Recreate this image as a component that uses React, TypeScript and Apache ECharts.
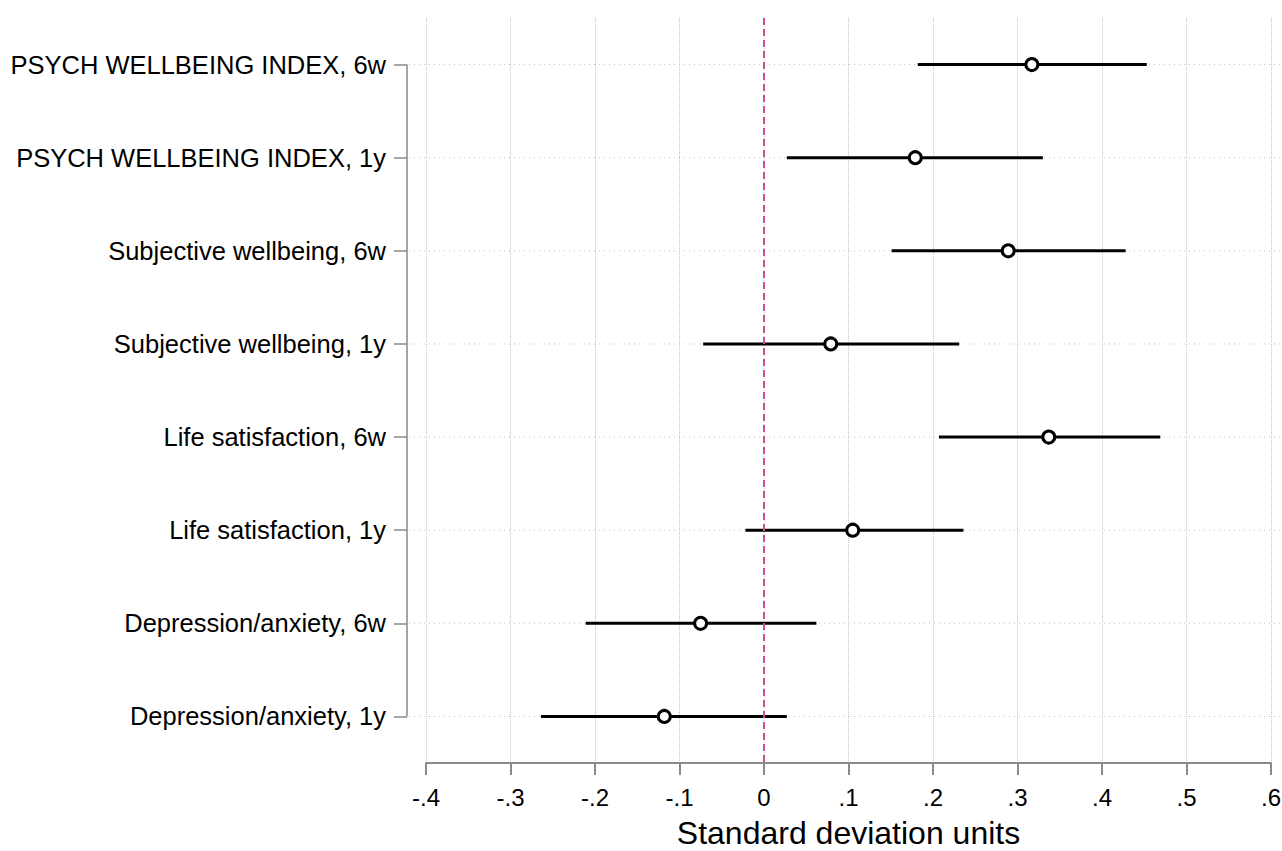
import React, { useEffect, useRef } from "react";
import * as echarts from "echarts";

const categories = [
  "PSYCH WELLBEING INDEX, 6w",
  "PSYCH WELLBEING INDEX, 1y",
  "Subjective wellbeing, 6w",
  "Subjective wellbeing, 1y",
  "Life satisfaction, 6w",
  "Life satisfaction, 1y",
  "Depression/anxiety, 6w",
  "Depression/anxiety, 1y",
];
const estimates = [0.317, 0.179, 0.289, 0.079, 0.337, 0.105, -0.075, -0.118];
const lower = [0.182, 0.027, 0.151, -0.072, 0.207, -0.022, -0.211, -0.264];
const upper = [0.453, 0.330, 0.428, 0.231, 0.469, 0.236, 0.062, 0.027];
const xMin = -0.4;
const xMax = 0.6;
const xInterval = 0.1;
const xTitle = "Standard deviation units";

const FONT = "'Liberation Sans', Arial, sans-serif";
const GRID_GREY = "#c4c4c4";
const AXIS_GREY = "#8a8a8a";

function fmt(v: number): string {
  const r = Math.round(v * 10) / 10;
  if (r === 0) return "0";
  const s = String(r);
  return s.replace(/^0\./, ".").replace(/^-0\./, "-.");
}

export default function App() {
  const ref = useRef<HTMLDivElement>(null);
  useEffect(() => {
    document.body.style.margin = "0";
    document.body.style.overflow = "hidden";
    const chart = echarts.init(ref.current!, null, { renderer: "svg" });
    const n = categories.length;
    chart.setOption({
      animation: false,
      backgroundColor: "#ffffff",
      grid: { left: 426, right: 11, top: 18, bottom: 88, containLabel: false, outerBoundsMode: "none" },
      xAxis: {
        type: "value",
        min: xMin,
        max: xMax,
        interval: xInterval,
        name: xTitle,
        nameLocation: "middle",
        nameGap: 54,
        nameTextStyle: { fontFamily: FONT, fontSize: 32, color: "#000" },
        axisLine: { show: true, onZero: false, lineStyle: { color: AXIS_GREY, width: 2 } },
        axisTick: { show: true, length: 12, lineStyle: { color: AXIS_GREY, width: 2 } },
        axisLabel: { fontFamily: FONT, fontSize: 24, color: "#000", margin: 22, formatter: fmt },
        splitLine: { show: true, lineStyle: { color: GRID_GREY, type: "dotted", width: 1 } },
      },
      yAxis: {
        type: "category",
        data: categories,
        inverse: true,
        offset: 19,
        axisLine: { show: false, onZero: false },
        axisTick: { show: true, alignWithLabel: true, length: 13, lineStyle: { color: AXIS_GREY, width: 1.5 } },
        axisLabel: { fontFamily: FONT, fontSize: 25.5, color: "#000", margin: 21 },
        splitLine: { show: false },
      },
      series: [
        {
          type: "custom",
          z: 1,
          clip: false,
          silent: true,
          data: categories.map((_, i) => [i]),
          encode: { y: 0 },
          renderItem: (params: any, api: any) => {
            const i = api.value(0);
            const p = api.coord([xMin, i]);
            return {
              type: "line",
              shape: { x1: p[0] - 17, y1: p[1], x2: api.getWidth(), y2: p[1] },
              style: { stroke: GRID_GREY, lineWidth: 1, lineDash: [1, 4] },
            };
          },
        },
        {
          type: "custom",
          z: 2,
          clip: false,
          silent: true,
          data: [[0]],
          encode: { y: 0 },
          renderItem: (params: any, api: any) => {
            const a = api.coord([xMin, 0]);
            const b = api.coord([xMin, n - 1]);
            return {
              type: "line",
              shape: { x1: a[0] - 19, y1: a[1], x2: b[0] - 19, y2: b[1] },
              style: { stroke: AXIS_GREY, lineWidth: 1.5 },
            };
          },
        },
        {
          type: "line",
          z: 3,
          data: [],
          markLine: {
            silent: true,
            symbol: "none",
            label: { show: false },
            lineStyle: { color: "#c94f8e", type: [7, 4], width: 2 },
            data: [{ xAxis: 0 }],
          },
        },
        {
          type: "custom",
          z: 4,
          clip: false,
          silent: true,
          data: categories.map((_, i) => [lower[i], upper[i], i]),
          encode: { x: [0, 1], y: 2 },
          renderItem: (params: any, api: any) => {
            const lo = api.coord([api.value(0), api.value(2)]);
            const hi = api.coord([api.value(1), api.value(2)]);
            return {
              type: "line",
              shape: { x1: lo[0], y1: lo[1], x2: hi[0], y2: hi[1] },
              style: { stroke: "#000", lineWidth: 3 },
            };
          },
        },
        {
          type: "scatter",
          z: 5,
          silent: true,
          symbol: "circle",
          symbolSize: 12,
          itemStyle: { color: "#ffffff", borderColor: "#000", borderWidth: 3, opacity: 1 },
          data: estimates.map((v, i) => [v, i]),
        },
      ],
    });
    return () => chart.dispose();
  }, []);
  return <div ref={ref} style={{ width: 1282, height: 851 }} />;
}
